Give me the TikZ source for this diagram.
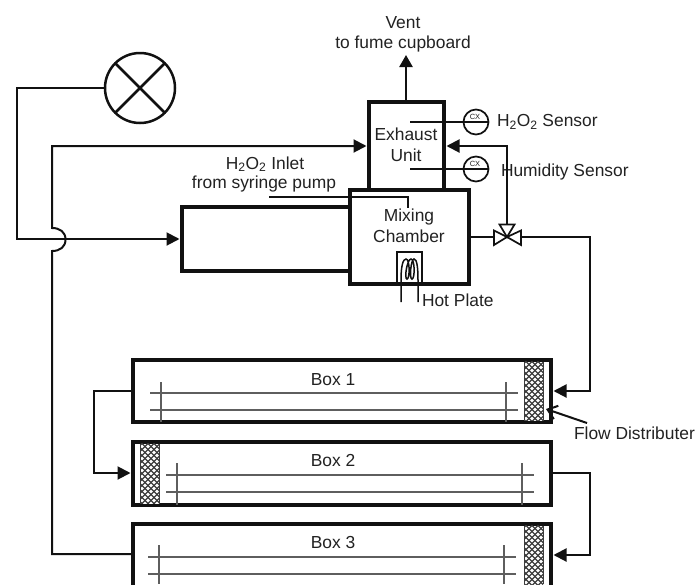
\documentclass[tikz,border=0pt]{standalone}
\usepackage{fontspec}
\setmainfont{Liberation Sans}
\usetikzlibrary{arrows.meta,calc}
\definecolor{ink}{HTML}{111111}
\definecolor{txt}{HTML}{222222}
\definecolor{thin}{HTML}{5E5E5E}
\definecolor{mesh}{HTML}{3C3C3C}
\tikzset{
  wall/.style={draw=ink,line width=3.2pt,fill=white,inner sep=0pt,outer sep=0pt,anchor=north west},
  pipe/.style={draw=ink,line width=2pt},
  flow/.style={pipe,-{Triangle[length=13pt,width=13pt]},shorten >=2.5pt},
  thinline/.style={draw=ink,line width=1.5pt},
  rod/.style={draw=thin,line width=1.6pt},
  lbl/.style={text=txt,font=\fontsize{17.4}{20}\selectfont,inner sep=0pt,outer sep=0pt},
  sensor/.style={circle,draw=ink,line width=1.7pt,minimum size=25pt,inner sep=0pt,outer sep=0pt},
  gauge/.style={circle,draw=ink,line width=2.5pt,minimum size=70pt,inner sep=0pt,outer sep=0pt},
  valvepart/.style={draw=ink,line width=1.7pt,fill=white,line join=miter},
}
\newcommand{\meshblock}[4]{%
  \begin{scope}
    \clip (#1,#2) rectangle (#3,#4);
    \fill[white] (#1,#2) rectangle (#3,#4);
    \foreach \k in {-100,-94,...,130}{
      \draw[mesh,line width=1.25pt] (#1+\k,#2) -- ++(100,100);
      \draw[mesh,line width=1.25pt] (#1+\k,#2) -- ++(-100,100);
    }
  \end{scope}
  \draw[mesh,line width=1pt] (#1,#2) -- (#1,#4) (#3,#2) -- (#3,#4);
}
\begin{document}
\begin{tikzpicture}[x=1pt,y=-1pt]
\useasboundingbox (0,0) rectangle (696,584);
\fill[white] (0,0) rectangle (696,584);
\clip (0,0) rectangle (696,584);

% main vessels
\node[wall,minimum width=75pt,minimum height=88pt] (exhaust) at (369,102) {};
\node[wall,minimum width=168pt,minimum height=64pt] (duct) at (182,207) {};
\node[wall,minimum width=119pt,minimum height=94pt] (mixing) at (350,190) {};
\node[wall,minimum width=418pt,minimum height=62pt] (box1) at (133,360) {};
\node[wall,minimum width=418pt,minimum height=63pt] (box2) at (133,442) {};
\node[wall,minimum width=418pt,minimum height=80pt] (box3) at (133,524) {};

% texts
\node[lbl] (ventA) at (403,23) {Vent};
\node[lbl] (ventB) at (403,44) {to fume cupboard};
\node[lbl,align=center] (exhausttext) at (406,145) {Exhaust\\[1pt]Unit};
\node[lbl,align=center] (mixingtext) at (409,226) {Mixing\\[1pt]Chamber};
\node[lbl] (inletA) at (265,164) {H\textsubscript{2}O\textsubscript{2} Inlet};
\node[lbl] (inletB) at (264,184) {from syringe pump};
\node[lbl,anchor=west] (h2o2) at (497,122) {H\textsubscript{2}O\textsubscript{2} Sensor};
\node[lbl,anchor=west] (humid) at (501,172) {Humidity Sensor};
\node[lbl,anchor=west] (hot) at (422,300) {Hot Plate};
\node[lbl] (t1) at (333,380) {Box 1};
\node[lbl] (t2) at (333,461) {Box 2};
\node[lbl] (t3) at (333,543) {Box 3};
\node[lbl,anchor=west] (flowd) at (574,433) {Flow Distributer};

% distributers
\meshblock{524}{361.5}{543}{420.5}
\meshblock{140}{443.5}{159}{503.5}
\meshblock{524}{525.5}{543}{584}

% rods in boxes
\foreach \b/\ya/\yb/\xa/\xb/\va/\vb/\ta/\tb in {box1/393/410/150/518/161/506/382/422,box2/475/492/166/534/177/522/463/505,box3/557/574/148/516/159/504/545/584}{
  \coordinate (\b a1) at (\xa,\ya); \coordinate (\b a2) at (\xb,\ya);
  \coordinate (\b b1) at (\xa,\yb); \coordinate (\b b2) at (\xb,\yb);
  \coordinate (\b v1) at (\va,\ta); \coordinate (\b v2) at (\va,\tb);
  \coordinate (\b w1) at (\vb,\ta); \coordinate (\b w2) at (\vb,\tb);
  \draw[rod] (\b a1) -- (\b a2);
  \draw[rod] (\b b1) -- (\b b2);
  \draw[rod] (\b v1) -- (\b v2);
  \draw[rod] (\b w1) -- (\b w2);
}

% damper and loops
\node[gauge] (damper) at (140,88) {};
\draw[line width=2.5pt,draw=ink] (damper.45) -- (damper.225) (damper.135) -- (damper.315);
\coordinate (c1) at (17,88);
\coordinate (c2) at (17,239);
\coordinate (ductin) at (182,239);
\draw[flow] (damper.west) -- (c1) -- (c2) -- (ductin);

\coordinate (ret0) at (133,554);
\coordinate (ret1) at (52,554);
\coordinate (ret2) at (52,251);
\coordinate (ret3) at (52,228);
\coordinate (ret4) at (52,146);
\coordinate (exin) at (369,146);
\draw[flow] (ret0) -- (ret1) -- (ret2)
  .. controls (60,251) and (65.5,247) .. (65.5,239.5)
  .. controls (65.5,232) and (60,228) .. (ret3) -- (ret4) -- (exin);

% vent
\coordinate (venttip) at (406,55);
\coordinate (ventbase) at (406,102);
\draw[pipe,line width=2.4pt,-{Triangle[length=12pt,width=13pt]}] (ventbase) -- (venttip);

% valve and branches
\coordinate (valve) at (507,237);
\coordinate (mixout) at (469,237);
\coordinate (recyc) at (507,146);
\coordinate (exout) at (444,146);
\coordinate (r1) at (590,237);
\coordinate (b1in) at (551,391);
\coordinate (r2) at (590,391);
\draw[pipe] (mixout) -- (valve);
\draw[flow] (valve) -- (recyc) -- (exout);
\draw[flow] (valve) -- (r1) -- (r2) -- (b1in);
\draw[valvepart] (valve) -- (494,230.5) -- (494,245) -- cycle;
\draw[valvepart] (valve) -- (521,230.5) -- (521,245) -- cycle;
\draw[valvepart] (valve) -- (499.5,224.5) -- (514.5,224.5) -- cycle;

% box links
\coordinate (l1) at (94,391);
\coordinate (l2) at (94,473);
\coordinate (b1out) at (133,391);
\coordinate (b2in) at (133,473);
\draw[flow] (b1out) -- (l1) -- (l2) -- (b2in);
\coordinate (b2out) at (551,473);
\coordinate (l3) at (590,473);
\coordinate (l4) at (590,555);
\coordinate (b3in) at (551,555);
\draw[flow] (b2out) -- (l3) -- (l4) -- (b3in);

% flow distributer pointer
\coordinate (fdA) at (587,423);
\coordinate (fdB) at (546,409);
\draw[pipe,-{Straight Barb[length=9pt,width=14pt]}] (fdA) -- (fdB);

% sensors
\node[sensor,fill=white] (s1) at (476,122) {};
\node[sensor,fill=white] (s2) at (476,169) {};
\node[text=txt,font=\fontsize{7.5}{7.5}\selectfont,inner sep=0pt] (cx1) at (475,117) {CX};
\node[text=txt,font=\fontsize{7.5}{7.5}\selectfont,inner sep=0pt] (cx2) at (475,164) {CX};
\coordinate (p1) at (410,122);
\coordinate (p2) at (410,169);
\draw[thinline] (p1) -- (s1.east);
\draw[thinline] (p2) -- (s2.east);

% inlet
\coordinate (in0) at (269,197);
\coordinate (in1) at (408,197);
\coordinate (in2) at (408,208);
\draw[thinline] (in0) -- (in1) -- (in2);

% hot plate
\coordinate (hpa) at (397,284);
\coordinate (hpb) at (397,252);
\coordinate (hpc) at (422,252);
\coordinate (hpd) at (422,284);
\draw[thinline,line width=1.7pt] (hpa) -- (hpb) -- (hpc) -- (hpd);
\coordinate (lead1) at (401,302);
\coordinate (lead2) at (418,302);
\draw[thinline] (lead1) -- (401,280) .. controls (401,266) and (403,259) .. (406,259)
  .. controls (410,259) and (410,279) .. (407,279)
  .. controls (404,279) and (407,259) .. (411,259)
  .. controls (415,259) and (415,279) .. (412,279)
  .. controls (409,279) and (411,259) .. (414,259)
  .. controls (417,259) and (418,268) .. (418,280) -- (lead2);
\end{tikzpicture}
\end{document}
